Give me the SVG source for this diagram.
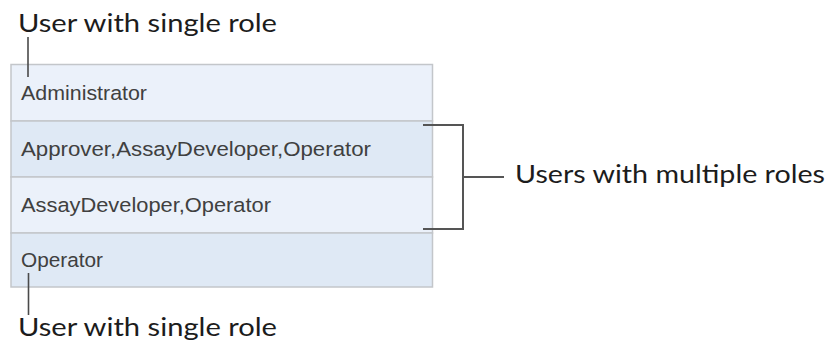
<svg xmlns="http://www.w3.org/2000/svg" width="832" height="344" viewBox="0 0 832 344">
  <style>
    .row-a { fill: #ebf1fa; stroke: #c3c6ca; stroke-width: 1.5; }
    .row-b { fill: #dfe9f5; stroke: #c3c6ca; stroke-width: 1.5; }
    .cell { font-family: "Liberation Sans", Arial, sans-serif; font-size: 20.5px; fill: #404040; }
    .label { font-family: Lato, "Noto Sans", sans-serif; font-size: 25px; fill: #1c1c1c; }
    .line { stroke: #4a4a4a; stroke-width: 1.6; fill: none; }
    .bracket { stroke: #555555; stroke-width: 2; fill: none; }
  </style>
  <rect width="832" height="344" fill="#ffffff"/>

  <g id="row-administrator">
    <rect class="row-a" x="11" y="64.5" width="421.5" height="56.5"/>
    <text class="cell" x="21" y="100" textLength="126" lengthAdjust="spacingAndGlyphs">Administrator</text>
  </g>
  <g id="row-approver">
    <rect class="row-b" x="11" y="121" width="421.5" height="56"/>
    <text class="cell" x="21" y="155.5" textLength="350" lengthAdjust="spacingAndGlyphs">Approver,AssayDeveloper,Operator</text>
  </g>
  <g id="row-assaydeveloper">
    <rect class="row-a" x="11" y="177" width="421.5" height="56"/>
    <text class="cell" x="21" y="212" textLength="250" lengthAdjust="spacingAndGlyphs">AssayDeveloper,Operator</text>
  </g>
  <g id="row-operator">
    <rect class="row-b" x="11" y="233" width="421.5" height="54"/>
    <text class="cell" x="21" y="267" textLength="82" lengthAdjust="spacingAndGlyphs">Operator</text>
  </g>

  <g id="label-single-top">
    <text class="label" x="18" y="32" textLength="259" lengthAdjust="spacingAndGlyphs">User with single role</text>
  </g>
  <g id="label-single-bottom">
    <text class="label" x="18" y="336" textLength="259" lengthAdjust="spacingAndGlyphs">User with single role</text>
  </g>
  <g id="label-multiple">
    <text class="label" x="515" y="183" textLength="310" lengthAdjust="spacingAndGlyphs">Users with multiple roles</text>
  </g>

  <g id="connectors">
    <line class="line" x1="28" y1="37" x2="28" y2="77"/>
    <line class="line" x1="28.5" y1="273" x2="28.5" y2="315"/>
    <polyline class="bracket" points="423,125 463,125 463,229 423,229"/>
    <line class="bracket" x1="463" y1="177" x2="504" y2="177"/>
  </g>
</svg>
